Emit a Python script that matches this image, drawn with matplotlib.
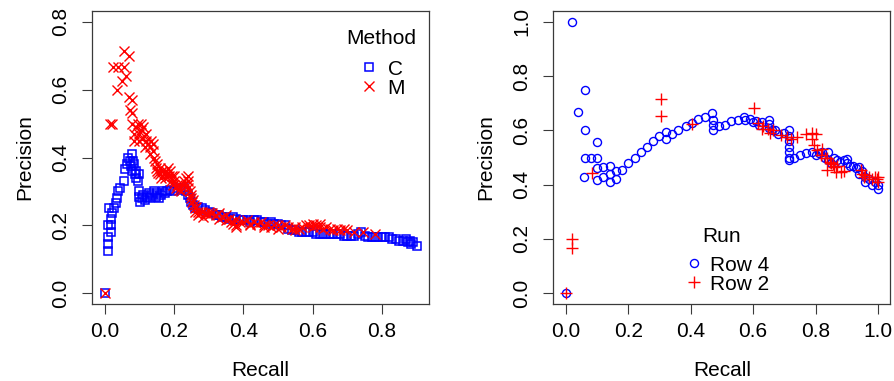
import matplotlib
matplotlib.use("Agg")
import matplotlib.pyplot as plt
from matplotlib.lines import Line2D

plt.rcParams["font.family"] = ["Liberation Sans", "DejaVu Sans"]

BLUE = "#0000FF"
RED = "#FF0000"
BOX = "#3a3a3a"
FS = 15

# ---- left panel: Method C vs M ----
c_recall = [0.0, 0.01, 0.01, 0.01, 0.01, 0.012, 0.018, 0.018, 0.02, 0.022,
            0.028, 0.032, 0.035, 0.038, 0.045, 0.055, 0.06, 0.065, 0.068, 0.072,
            0.078, 0.075, 0.08, 0.082, 0.085, 0.088, 0.09, 0.092, 0.095, 0.098,
            0.1, 0.1, 0.102, 0.108, 0.112, 0.118, 0.122, 0.128, 0.132, 0.138,
            0.142, 0.148, 0.152, 0.158, 0.162, 0.168, 0.175, 0.18, 0.19, 0.2,
            0.21, 0.22, 0.23, 0.235, 0.24, 0.245, 0.25, 0.255, 0.26, 0.27,
            0.28, 0.29, 0.3, 0.31, 0.32, 0.33, 0.34, 0.35, 0.36, 0.37,
            0.38, 0.39, 0.4, 0.41, 0.42, 0.43, 0.44, 0.45, 0.46, 0.47,
            0.48, 0.49, 0.5, 0.51, 0.52, 0.53, 0.54, 0.55, 0.56, 0.57,
            0.58, 0.59, 0.6, 0.61, 0.62, 0.63, 0.64, 0.65, 0.66, 0.67,
            0.68, 0.69, 0.7, 0.71, 0.72, 0.73, 0.74, 0.75, 0.76, 0.77,
            0.78, 0.79, 0.8, 0.81, 0.82, 0.83, 0.84, 0.85, 0.86, 0.87,
            0.875, 0.88, 0.885, 0.89, 0.9]
c_precision = [0.0, 0.125, 0.145, 0.165, 0.2, 0.25, 0.18, 0.2, 0.22, 0.235,
               0.25, 0.265, 0.28, 0.3, 0.31, 0.33, 0.365, 0.38, 0.4, 0.39,
               0.41, 0.375, 0.36, 0.39, 0.38, 0.35, 0.34, 0.36, 0.33, 0.35,
               0.3, 0.285, 0.27, 0.28, 0.29, 0.275, 0.285, 0.295, 0.28, 0.29,
               0.3, 0.285, 0.295, 0.28, 0.29, 0.3, 0.295, 0.3, 0.305, 0.3,
               0.31, 0.305, 0.31, 0.3, 0.29, 0.28, 0.27, 0.26, 0.25, 0.255,
               0.25, 0.245, 0.24, 0.235, 0.23, 0.23, 0.225, 0.225, 0.22, 0.225,
               0.22, 0.215, 0.215, 0.215, 0.21, 0.215, 0.215, 0.21, 0.21, 0.205,
               0.21, 0.205, 0.205, 0.2, 0.2, 0.19, 0.185, 0.185, 0.18, 0.18,
               0.18, 0.18, 0.18, 0.175, 0.175, 0.175, 0.175, 0.175, 0.175, 0.175,
               0.175, 0.17, 0.17, 0.17, 0.17, 0.175, 0.18, 0.17, 0.165, 0.165,
               0.165, 0.165, 0.165, 0.165, 0.165, 0.16, 0.16, 0.155, 0.155, 0.16,
               0.15, 0.155, 0.145, 0.15, 0.14]

m_recall = [0.0, 0.015, 0.022, 0.025, 0.04, 0.055, 0.035, 0.05, 0.062, 0.055,
            0.07, 0.07, 0.08, 0.072, 0.078, 0.08, 0.085, 0.09, 0.095, 0.085,
            0.1, 0.105, 0.11, 0.108, 0.115, 0.12, 0.118, 0.125, 0.13, 0.135,
            0.132, 0.14, 0.142, 0.145, 0.148, 0.15, 0.152, 0.155, 0.16, 0.162,
            0.165, 0.17, 0.175, 0.178, 0.182, 0.185, 0.19, 0.192, 0.195, 0.198,
            0.2, 0.205, 0.21, 0.215, 0.22, 0.225, 0.23, 0.235, 0.238, 0.24,
            0.242, 0.245, 0.248, 0.25, 0.252, 0.255, 0.258, 0.26, 0.262, 0.265,
            0.27, 0.275, 0.28, 0.29, 0.3, 0.31, 0.32, 0.33, 0.34, 0.35,
            0.36, 0.365, 0.37, 0.375, 0.38, 0.39, 0.4, 0.41, 0.42, 0.43,
            0.44, 0.45, 0.46, 0.47, 0.48, 0.49, 0.5, 0.51, 0.52, 0.53,
            0.54, 0.55, 0.56, 0.57, 0.58, 0.59, 0.6, 0.61, 0.62, 0.63,
            0.64, 0.65, 0.66, 0.67, 0.68, 0.69, 0.7, 0.72, 0.745, 0.78,
            0.27, 0.285, 0.3, 0.33, 0.35, 0.38, 0.42, 0.46, 0.5, 0.55,
            0.6, 0.62, 0.24, 0.22, 0.2, 0.18, 0.16, 0.14, 0.12, 0.1,
            0.105]
m_precision = [0.0, 0.5, 0.5, 0.667, 0.667, 0.667, 0.6, 0.625, 0.64, 0.715,
               0.7, 0.58, 0.57, 0.54, 0.53, 0.5, 0.47, 0.49, 0.5, 0.45,
               0.47, 0.48, 0.49, 0.455, 0.465, 0.45, 0.43, 0.44, 0.43, 0.45,
               0.41, 0.42, 0.4, 0.39, 0.37, 0.38, 0.36, 0.355, 0.35, 0.34,
               0.36, 0.35, 0.34, 0.36, 0.37, 0.345, 0.36, 0.33, 0.345, 0.32,
               0.33, 0.31, 0.32, 0.305, 0.315, 0.32, 0.33, 0.34, 0.32, 0.33,
               0.31, 0.3, 0.29, 0.28, 0.27, 0.275, 0.26, 0.25, 0.24, 0.255,
               0.24, 0.235, 0.24, 0.235, 0.24, 0.235, 0.23, 0.235, 0.225, 0.23,
               0.22, 0.21, 0.205, 0.215, 0.2, 0.21, 0.21, 0.215, 0.205, 0.21,
               0.205, 0.21, 0.2, 0.2, 0.195, 0.2, 0.2, 0.195, 0.2, 0.195,
               0.19, 0.195, 0.19, 0.195, 0.2, 0.2, 0.195, 0.2, 0.195, 0.19,
               0.195, 0.19, 0.185, 0.19, 0.185, 0.19, 0.185, 0.18, 0.18, 0.175,
               0.23, 0.225, 0.23, 0.22, 0.215, 0.195, 0.2, 0.195, 0.19, 0.185,
               0.205, 0.205, 0.345, 0.3, 0.345, 0.35, 0.37, 0.44, 0.47, 0.45,
               0.5]

# ---- right panel: Run Row 4 vs Row 2 ----
r4_recall = [0.0, 0.02, 0.06, 0.04, 0.06, 0.1, 0.06, 0.08, 0.1, 0.057,
             0.1, 0.1, 0.12, 0.12, 0.14, 0.14, 0.14, 0.16, 0.16, 0.18,
             0.2, 0.22, 0.24, 0.26, 0.28, 0.3, 0.32, 0.32, 0.34, 0.36,
             0.385, 0.405, 0.425, 0.447, 0.468, 0.47, 0.47, 0.47, 0.49, 0.51,
             0.53, 0.55, 0.57, 0.575, 0.59, 0.6, 0.61, 0.62, 0.63, 0.65,
             0.65, 0.65, 0.66, 0.67, 0.68, 0.7, 0.715, 0.715, 0.715, 0.715,
             0.715, 0.715, 0.715, 0.73, 0.75, 0.77, 0.79, 0.8, 0.81, 0.82,
             0.83, 0.84, 0.84, 0.85, 0.86, 0.87, 0.88, 0.89, 0.9, 0.9,
             0.91, 0.92, 0.93, 0.94, 0.94, 0.95, 0.96, 0.96, 0.97, 0.98,
             0.99, 1.0, 1.0]
r4_precision = [0.0, 1.0, 0.75, 0.667, 0.6, 0.556, 0.5, 0.5, 0.5, 0.429,
                0.46, 0.417, 0.466, 0.43, 0.47, 0.44, 0.41, 0.45, 0.42, 0.455,
                0.48, 0.5, 0.52, 0.54, 0.56, 0.578, 0.595, 0.57, 0.585, 0.6,
                0.615, 0.627, 0.643, 0.65, 0.663, 0.64, 0.62, 0.6, 0.615, 0.62,
                0.633, 0.64, 0.65, 0.64, 0.643, 0.63, 0.635, 0.62, 0.63, 0.64,
                0.625, 0.61, 0.6, 0.6, 0.585, 0.59, 0.6, 0.58, 0.56, 0.54,
                0.52, 0.5, 0.49, 0.5, 0.51, 0.515, 0.52, 0.51, 0.515, 0.52,
                0.5, 0.52, 0.49, 0.48, 0.5, 0.49, 0.485, 0.49, 0.495, 0.48,
                0.47, 0.47, 0.46, 0.465, 0.44, 0.45, 0.43, 0.41, 0.42, 0.4,
                0.41, 0.4, 0.385]

r2_recall = [0.0, 0.02, 0.02, 0.083, 0.304, 0.304, 0.405, 0.602, 0.617, 0.633,
             0.627, 0.648, 0.655, 0.665, 0.688, 0.71, 0.72, 0.742, 0.768, 0.79,
             0.79, 0.8, 0.795, 0.806, 0.817, 0.82, 0.83, 0.838, 0.845, 0.849,
             0.855, 0.86, 0.865, 0.838, 0.87, 0.881, 0.89, 0.945, 0.95, 0.955,
             0.96, 0.97, 0.98, 0.99, 0.997, 1.0, 1.0]
r2_precision = [0.0, 0.2, 0.167, 0.444, 0.714, 0.654, 0.625, 0.681, 0.627, 0.615,
                0.605, 0.607, 0.59, 0.6, 0.583, 0.577, 0.57, 0.574, 0.586, 0.59,
                0.57, 0.585, 0.545, 0.528, 0.51, 0.53, 0.5, 0.497, 0.485, 0.48,
                0.475, 0.465, 0.446, 0.453, 0.47, 0.446, 0.45, 0.453, 0.44, 0.43,
                0.435, 0.43, 0.42, 0.43, 0.42, 0.41, 0.43]


def style_axes(ax, xticks, yticks):
    ax.set_xticks(xticks)
    ax.set_yticks(yticks)
    ax.set_xticklabels([f"{t:.1f}" for t in xticks])
    ax.set_yticklabels([f"{t:.1f}" for t in yticks], rotation=90, va="center")
    ax.tick_params(axis="both", length=7, width=0.8, color=BOX, labelsize=FS)
    ax.tick_params(axis="x", pad=6)
    ax.tick_params(axis="y", pad=9)
    for sp in ax.spines.values():
        sp.set_edgecolor(BOX)
        sp.set_linewidth(0.9)
    ax.set_xlabel("Recall", fontsize=FS, labelpad=14)
    ax.set_ylabel("Precision", fontsize=FS, labelpad=12)


sq = dict(linestyle="none", marker="s", markersize=6.2, markerfacecolor="none",
          markeredgecolor=BLUE, markeredgewidth=1.1)
ex = dict(linestyle="none", marker="x", markersize=6.5, color=RED,
          markeredgewidth=1.0)
ci = dict(linestyle="none", marker="o", markersize=5.8, markerfacecolor="none",
          markeredgecolor=BLUE, markeredgewidth=1.0)
pl = dict(linestyle="none", marker="+", markersize=8, color=RED,
          markeredgewidth=1.0)

fig = plt.figure(figsize=(8.94, 3.81), dpi=100)

ax1 = fig.add_axes([0.103, 0.202, 0.377, 0.769])
ax1.plot(c_recall, c_precision, **sq)
ax1.plot(m_recall, m_precision, **ex)
ax1.set_xlim(-0.036, 0.936)
ax1.set_ylim(-0.032, 0.832)
style_axes(ax1, [0.0, 0.2, 0.4, 0.6, 0.8], [0.0, 0.2, 0.4, 0.6, 0.8])
ax1.text(0.858, 0.908, "Method", transform=ax1.transAxes, fontsize=FS,
         ha="center", va="center")
ax1.legend([Line2D([], [], **sq), Line2D([], [], **ex)], ["C", "M"],
           loc="upper right", bbox_to_anchor=(0.972, 0.884), frameon=False,
           fontsize=FS, handlelength=0.8, handletextpad=0.5,
           labelspacing=0.0, borderaxespad=0.3)

ax2 = fig.add_axes([0.619, 0.202, 0.377, 0.769])
ax2.plot(r4_recall, r4_precision, **ci)
ax2.plot(r2_recall, r2_precision, **pl)
ax2.set_xlim(-0.04, 1.04)
ax2.set_ylim(-0.04, 1.04)
style_axes(ax2, [0.0, 0.2, 0.4, 0.6, 0.8, 1.0], [0.0, 0.2, 0.4, 0.6, 0.8, 1.0])
ax2.text(0.4985, 0.229, "Run", transform=ax2.transAxes, fontsize=FS,
         ha="center", va="center")
ax2.legend([Line2D([], [], **ci), Line2D([], [], **pl)], ["Row 4", "Row 2"],
           loc="upper left", bbox_to_anchor=(0.368, 0.194), frameon=False,
           fontsize=FS, handlelength=0.8, handletextpad=0.35,
           labelspacing=0.0, borderaxespad=0.0)

fig.savefig("out.png", dpi=100)
